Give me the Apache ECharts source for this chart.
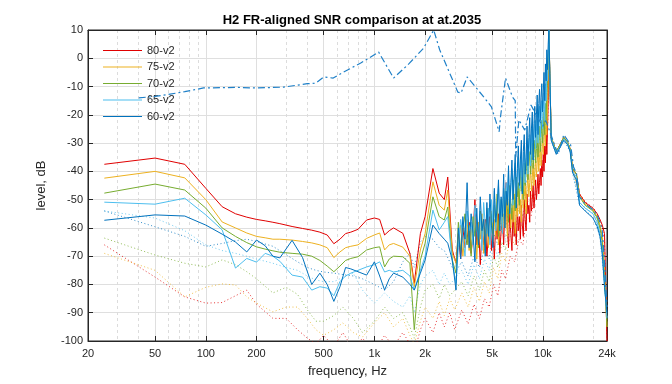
<!DOCTYPE html>
<html><head><meta charset="utf-8">
<script src="https://cdn.jsdelivr.net/npm/echarts@6/dist/echarts.min.js"></script>
<style>html,body{margin:0;padding:0;background:#fff}#c{width:672px;height:384px}</style>
</head><body><div id="c"></div>
<script>
const TITLE = 'H2 FR-aligned SNR comparison at at.2035';
const X_NAME = 'frequency, Hz';
const Y_NAME = 'level, dB';
const X_TICKS = [20, 50, 100, 200, 500, 1000, 2000, 5000, 10000, 24000];
const X_MINOR = [30, 40, 60, 70, 80, 90, 300, 400, 600, 700, 800, 900, 3000, 4000, 6000, 7000, 8000, 9000, 20000];
const NAMES = ['80-v2', '75-v2', '70-v2', '65-v2', '60-v2'];

// frequencies (Hz) of the solid curves: low part, noisy part, tail
const F_SOLID = [
  25, 50, 75, 100, 125, 150, 175, 200, 225, 250, 275, 325, 375, 425, 475, 525, 575, 625, 675, 725, 800, 900, 1000, 1075, 1150, 1225, 1300, 1475, 1625, 1725, 1875, 2000, 2225, 2425, 2600, 2725, 2900, 3050,
  3150, 3250, 3350, 3450, 3550, 3650, 3750, 3850, 3950, 4050,
  4150, 4250, 4350, 4450, 4550, 4650, 4750, 4850, 4950, 5050,
  5150, 5250, 5350, 5450, 5550, 5650, 5750, 5850, 5950, 6050,
  6150, 6250, 6350, 6450, 6550, 6650, 6750, 6850, 6950, 7050,
  7150, 7250, 7350, 7450, 7550, 7650, 7750, 7850, 7950, 8050,
  8150, 8250, 8350, 8450, 8550, 8650, 8750, 8850, 8950, 9050,
  9150, 9250, 9350, 9450, 9550, 9650, 9750, 9850, 9950, 10050,
  10150, 10250, 10350, 10450, 10550, 10650, 10750, 10850,
  11200, 12000, 12800, 13300, 14000, 14500, 15000, 15800, 16500, 17800, 19800, 21000, 21800, 22500, 23200, 24000
];
const V80 = [
  -37.5, -35.3, -37.5, -46, -52.5, -55, -56.2, -57, -57.5, -58, -58.5, -59.5, -60.2, -60.8, -61.5, -62.5, -65.6, -64, -62, -61.5, -60.5, -57.2, -56.5, -57, -62.5, -61, -60, -61.9, -69, -79.6, -62, -56, -39, -47.7, -50, -42, -67.8, -72.5,
  -62, -71, -60, -67, -64, -58, -69, -62, -50, -66,
  -59, -73, -61, -66, -57, -70, -63, -56, -68, -60,
  -71, -58, -64, -55, -69, -61, -57, -66, -52, -44,
  -60, -67, -55, -62, -68, -54, -63, -58, -66, -53,
  -61, -56, -64, -52, -59, -63, -50, -57, -61, -48,
  -55, -52, -58, -47, -54, -50, -45, -53, -49, -43,
  -50, -46, -41, -48, -44, -39, -45, -36, -42, -34,
  -40, -31, -37, -27, -34, -25, -15, 10,
  -28, -33, -30, -28, -29.6, -32, -39, -41, -48, -51, -53, -55, -57, -59, -62, -100
];
const V75 = [
  -42.4, -40, -42.3, -50, -57.9, -60, -61.8, -63, -63.5, -64, -64, -64.3, -64.8, -65.3, -66, -67, -70.5, -68.5, -67, -66.5, -66, -63.7, -62.5, -61.8, -67.8, -66, -65.5, -66.8, -70, -80.8, -67.8, -62, -43.7, -52, -53.7, -46.6, -69, -72.5,
  -66, -59, -70, -62, -57, -68, -60, -65, -56, -71,
  -58, -64, -55, -69, -61, -57, -67, -59, -54, -65,
  -57, -63, -52, -66, -58, -51, -62, -55, -60, -50,
  -63, -54, -49, -60, -53, -58, -48, -62, -52, -56,
  -47, -55, -50, -58, -45, -53, -49, -44, -55, -46,
  -41, -49, -44, -38, -47, -42, -37, -45, -40, -35,
  -42, -37, -32, -40, -35, -30, -38, -33, -28, -34,
  -29, -24, -31, -22, -27, -17, -8, 10,
  -28, -33, -30, -28, -29.6, -32, -39, -41, -48.5, -51.5, -53.5, -56, -59, -63, -75, -95
];
const V70 = [
  -47.7, -44.5, -46.6, -53, -60, -63, -65.2, -66.7, -67.5, -68.1, -68.6, -69, -69.3, -70, -71.5, -73.5, -75.5, -73.5, -71.5, -70.8, -70.2, -67.8, -67, -66.7, -73.8, -71, -70, -70.2, -72.5, -96, -71.4, -65.4, -49, -56, -57.2, -52.6, -71.4, -76,
  -58, -68, -61, -55, -66, -59, -70, -56, -63, -58,
  -67, -54, -62, -57, -69, -53, -60, -64, -55, -62,
  -52, -59, -48, -63, -55, -50, -61, -47, -56, -46,
  -53, -58, -45, -51, -57, -43, -50, -54, -42, -49,
  -44, -52, -39, -47, -42, -50, -37, -45, -40, -35,
  -43, -38, -33, -41, -36, -30, -39, -34, -29, -37,
  -32, -27, -35, -30, -24, -33, -28, -22, -30, -25,
  -19, -27, -16, -22, -12, -9, -2, 10,
  -28, -33, -30, -28, -29.6, -32, -39, -41, -49, -52, -54, -56.5, -60, -65, -78, -95
];
const V65 = [
  -50.9, -51.6, -49.5, -55.4, -60.7, -74.2, -70.8, -72.1, -69, -70, -71.8, -76.7, -77.4, -82, -80.8, -81.3, -84, -79, -77, -76, -75, -73.8, -73, -72, -75.6, -75, -75.6, -75, -77, -82, -75, -70, -53.7, -60.7, -58, -56, -72, -79.6,
  -67, -57, -63, -70, -54, -61, -58, -66, -52, -60,
  -64, -55, -68, -51, -59, -62, -53, -66, -50, -58,
  -47, -61, -53, -45, -57, -50, -62, -46, -54, -44,
  -51, -40, -55, -47, -39, -52, -43, -37, -49, -41,
  -35, -46, -40, -33, -48, -37, -31, -44, -36, -29,
  -41, -33, -27, -38, -30, -24, -35, -28, -22, -32,
  -26, -19, -30, -23, -17, -28, -21, -15, -25, -18,
  -12, -22, -9, -15, -4, -8, 0, 10,
  -28.5, -33.5, -30.5, -28.5, -30, -32.5, -40, -42, -51, -53, -55, -58, -62, -68, -80, -92
];
const V60 = [
  -57.3, -55.4, -55.8, -59, -62.2, -65, -68.5, -64.3, -66.3, -70, -70.6, -64.4, -70.5, -80, -76, -80, -86, -80.8, -74, -74.5, -75.5, -76.7, -72, -77, -82, -78, -76, -77.4, -80, -82, -76, -71.4, -59, -62, -64, -65.4, -71.4, -82,
  -60, -71, -56, -64, -44, -67, -55, -62, -72, -53,
  -66, -49, -61, -57, -70, -51, -63, -48, -59, -67,
  -46, -58, -53, -43, -61, -49, -56, -41, -60, -47,
  -52, -38, -55, -44, -36, -50, -42, -34, -53, -39,
  -31, -45, -36, -29, -48, -33, -27, -41, -35, -24,
  -38, -28, -21, -34, -25, -19, -36, -23, -17, -28,
  -20, -13, -27, -16, -11, -22, -14, -9, -19, -12,
  -5, -15, -2, -8, 3, -4, 5, 10,
  -29, -34, -31, -29, -30.5, -33, -40.5, -43, -52, -54, -56.5, -59.5, -63, -69, -81, -90
];

// frequencies (Hz) of the dotted (floor) curves
const F_FLOOR = [
  25, 50, 75, 100, 125, 150, 175, 200, 250, 300, 350, 400, 450, 500, 575, 650, 750, 850, 1000, 1150,
  1300, 1475, 1625, 1725, 1875, 2000, 2225, 2425, 2600, 2800, 3000, 3300, 3600, 3900, 4200, 4500, 4800, 5100, 5400, 5700,
  6000, 6400, 6800, 7200, 7600, 8000, 8500, 9000, 9500, 10000, 10400, 10700, 10850, 11200, 12000, 13300, 14500, 15000, 16500, 18000,
  20000, 21800, 23200, 24000
];
const N80 = [
  -66, -77.4, -84.4, -86.6, -86.4, -84, -82, -87, -92, -92, -96, -99, -101, -98, -102, -97, -103, -99, -104, -98,
  -102, -97, -101, -104, -96, -92, -97, -90, -95, -90, -96, -89, -94, -87, -92, -85, -88, -80, -84, -75,
  -78, -70, -72, -64, -66, -57, -56, -48, -44, -38, -34, -22, 8, -28, -33, -28, -32, -39, -48, -51,
  -53, -57, -64, -100
];
const N75 = [
  -69, -75, -84.4, -81, -79.8, -80.2, -84.4, -86.6, -89.7, -88, -88, -92, -96, -98, -96, -93.6, -97, -98.6, -93.6, -90,
  -95, -92, -98, -101, -93, -88, -92, -86, -91, -85, -89, -83, -88, -81, -86, -79, -83, -74, -78, -69,
  -72, -63, -66, -57, -60, -51, -50, -42, -38, -32, -28, -18, 8, -28, -33, -28, -32, -39, -48.5, -51.5,
  -53.5, -59, -72, -95
];
const N70 = [
  -63.6, -69.6, -72.5, -73.8, -71.3, -73, -75.5, -78, -83, -81, -83.5, -89, -93, -93, -91, -88, -92, -97, -93, -88,
  -92, -90, -95, -99, -88, -82, -80, -85, -80, -84, -82, -79, -84, -77, -82, -75, -79, -70, -74, -65,
  -68, -59, -62, -53, -56, -47, -46, -38, -34, -28, -24, -14, 8, -28, -33, -28, -32, -39, -49, -52,
  -54, -60, -76, -95
];
const N65 = [
  -54, -56.5, -61, -66, -68, -69, -70, -71, -72.5, -74, -75, -77, -78.4, -79, -79, -77.5, -76, -82, -86.6, -83,
  -86, -88, -84, -90, -80, -77, -75, -80, -76, -80, -78, -75, -80, -73, -78, -71, -75, -66, -70, -61,
  -64, -55, -58, -49, -52, -43, -42, -34, -30, -24, -20, -10, 8, -28.5, -33.5, -28.5, -32.5, -40, -51, -53,
  -55, -62, -79, -92
];
const N60 = [
  -54, -59.6, -63, -66.5, -65.5, -64.5, -64, -64.8, -66.5, -69.5, -72, -74, -75, -75.6, -76, -76.5, -77, -78, -80, -82,
  -79, -72, -69, -74, -65, -63, -64, -67, -68, -72, -76, -72, -77, -70, -74, -67, -71, -62, -66, -57,
  -60, -51, -54, -45, -48, -39, -38, -30, -26, -20, -16, -6, 8, -29, -34, -29, -33, -40.5, -52, -54,
  -56.5, -63, -80, -90
];

// dash-dot reference curve
const F_REF = [40, 50, 60, 75, 97, 150, 200, 290, 400, 450, 500, 570, 650, 830, 1060, 1300, 1600, 1960, 2250, 2440, 2800, 3130, 3270, 3550, 3900, 4500, 4950, 5500, 5600, 6000, 6600, 6850, 6900, 7200, 7800, 8500, 9200, 10000, 10400, 11000, 12300, 13300, 14600, 15200, 15800, 16500, 17800, 19800, 21000, 21800, 22500, 23200, 24000];
const V_REF = [-14, -13.5, -12.8, -11.8, -10.5, -10.3, -10.5, -10.2, -9, -8.8, -6.6, -7, -5, -1.7, 2.2, -7, -2, 3.6, 10, 3, -5.3, -12, -12.3, -6.6, -9.5, -14, -17.2, -26, -20.8, -7, -13.7, -15, -35, -21.8, -25.4, -16.5, -20.6, -24, -22, -26, -34, -27, -30.6, -38.5, -40.6, -49, -51.5, -53.5, -55.5, -58, -61, -72, -88];

const COLORS = ['#e00000', '#EDB120', '#77AC30', '#4DBEEE', '#0072BD'];
const REF_COLOR = '#1f80c8';
const FONT = '"Liberation Sans", Arial, Helvetica, sans-serif';
const TXT = '#262626';

function zip(f, v) {
  const n = Math.min(f.length, v.length);
  const out = [];
  for (let i = 0; i < n; i++) out.push([f[i], v[i]]);
  return out;
}

const solid = [V80, V75, V70, V65, V60];
const floor = [N80, N75, N70, N65, N60];
const series = [];
floor.forEach((v, i) => series.push({
  name: NAMES[i] + ' floor', type: 'line', data: zip(F_FLOOR, v), symbol: 'none', showSymbol: false,
  lineStyle: { color: COLORS[i], width: 1, type: [1, 2.5], opacity: 0.8 }, itemStyle: { color: COLORS[i] },
  silent: true, animation: false, z: 2
}));
solid.forEach((v, i) => series.push({
  name: NAMES[i], type: 'line', data: zip(F_SOLID, v), symbol: 'none', showSymbol: false,
  lineStyle: { color: COLORS[i], width: 1 }, itemStyle: { color: COLORS[i] },
  silent: true, animation: false, z: 3
}));
series.push({
  name: 'ref', type: 'line', data: zip(F_REF, V_REF), symbol: 'none', showSymbol: false,
  lineStyle: { color: REF_COLOR, width: 1.2, type: [7, 3, 2, 3] }, itemStyle: { color: REF_COLOR },
  silent: true, animation: false, z: 4
});

const fmtHz = v => { const r = Math.round(v); return r >= 1000 ? (r / 1000) + 'k' : String(r); };

const option = {
  backgroundColor: '#fff',
  animation: false,
  title: {
    text: TITLE, left: 347, top: 9, textAlign: 'center',
    textStyle: { fontFamily: FONT, fontSize: 13, fontWeight: 'bold', color: '#000' }
  },
  legend: {
    data: NAMES, orient: 'vertical', left: 103, top: 45, padding: 0, itemWidth: 39, itemHeight: 1.2, itemGap: 5.5,
    icon: 'rect',
    textStyle: { fontFamily: FONT, fontSize: 11, color: TXT }, selectedMode: false
  },
  grid: { left: 88, right: 65, top: 30, bottom: 43, show: true, borderColor: TXT, borderWidth: 1, backgroundColor: 'transparent' },
  xAxis: [
    {
      type: 'log', logBase: 10, min: 20, max: 24000, position: 'bottom',
      name: X_NAME, nameLocation: 'middle', nameGap: 24,
      nameTextStyle: { fontFamily: FONT, fontSize: 13, color: TXT },
      axisLine: { show: true, onZero: false, lineStyle: { color: TXT } },
      axisTick: { show: true, inside: true, length: 5, customValues: X_TICKS, lineStyle: { color: TXT } },
      axisLabel: { customValues: X_TICKS, formatter: fmtHz, fontFamily: FONT, fontSize: 11, color: TXT, margin: 7 },
      splitLine: { show: true, lineStyle: { color: '#dfdfdf', width: 1 } }
    },
    {
      type: 'log', logBase: 10, min: 20, max: 24000, position: 'bottom',
      axisLine: { show: false, onZero: false }, axisLabel: { show: false },
      axisTick: { show: false, customValues: X_MINOR },
      splitLine: { show: true, lineStyle: { color: '#dcdcdc', width: 1, type: [3, 3] } }
    },
    {
      type: 'log', logBase: 10, min: 20, max: 24000, position: 'top',
      axisLine: { show: true, onZero: false, lineStyle: { color: TXT } }, axisLabel: { show: false },
      axisTick: { show: true, inside: true, length: 5, customValues: X_TICKS, lineStyle: { color: TXT } },
      splitLine: { show: false }
    }
  ],
  yAxis: [
    {
      type: 'value', min: -100, max: 10, interval: 10, position: 'left',
      name: Y_NAME, nameLocation: 'middle', nameGap: 40,
      nameTextStyle: { fontFamily: FONT, fontSize: 13, color: TXT },
      axisLine: { show: true, onZero: false, lineStyle: { color: TXT } },
      axisTick: { show: true, inside: true, length: 5, lineStyle: { color: TXT } },
      axisLabel: { fontFamily: FONT, fontSize: 11, color: TXT, margin: 5 },
      splitLine: { show: true, lineStyle: { color: '#dfdfdf', width: 1 } }
    },
    {
      type: 'value', min: -100, max: 10, interval: 10, position: 'right',
      axisLine: { show: true, onZero: false, lineStyle: { color: TXT } }, axisLabel: { show: false },
      axisTick: { show: true, inside: true, length: 5, lineStyle: { color: TXT } },
      splitLine: { show: false }
    }
  ],
  series: series
};

const chart = echarts.init(document.getElementById('c'), null, { renderer: 'canvas' });
chart.setOption(option);
</script>
</body></html>
